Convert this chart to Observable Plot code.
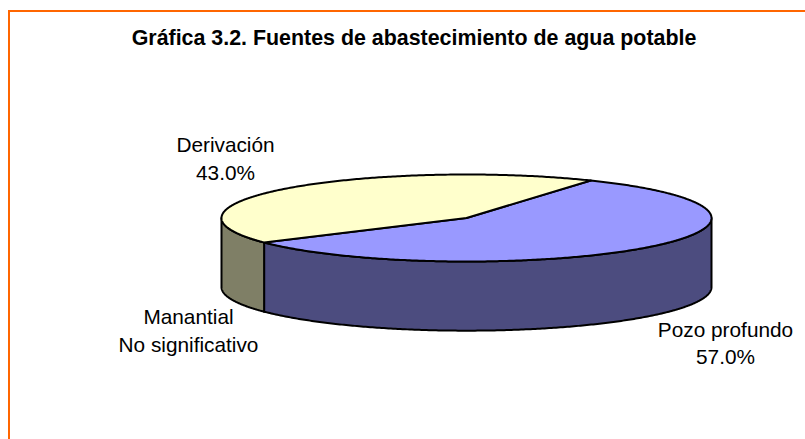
<!DOCTYPE html>
<html><head><meta charset="utf-8">
<script src="https://cdn.jsdelivr.net/npm/d3@7"></script>
<script src="https://cdn.jsdelivr.net/npm/@observablehq/plot@0.6"></script>
<style>
html,body{margin:0;padding:0;background:#fff}
#frame{position:absolute;left:0;top:0;width:805px;height:439px;overflow:hidden}
#frame:before{content:"";position:absolute;left:8px;top:10px;width:797px;height:429px;border-left:2.5px solid #ff6600;border-top:2.5px solid #ff6600;box-sizing:border-box}
svg{position:absolute;left:0;top:0;background:transparent!important}
</style></head><body><div id="frame"></div>
<script>
const chartTitle = "Gráfica 3.2. Fuentes de abastecimiento de agua potable";
const categories = ["Pozo profundo", "Derivación", "Manantial"];
const shares = [57.0, 43.0, 0];
const valueLabels = ["57.0%", "43.0%", "No significativo"];
const topColors = ["#9999ff", "#ffffcc", "#ffffff"];
const wallColors = ["#4c4c7f", "#7f7f66", "#ffffff"];
const startDegrees = 30.5;
const wallDepth = 1.59;
const W = 805, H = 439;
const px = d3.scaleLinear().domain([221, 711]).range([-1, 1]);
const py = d3.scaleLinear().domain([174, 261]).range([1, -1]);

const total = d3.sum(shares);
let acc = startDegrees * Math.PI / 180;
const slices = categories.map((name, i) => {
  const a0 = acc; acc += shares[i] / total * 2 * Math.PI;
  return {name, i, a0, a1: acc};
}).filter(d => d.a1 > d.a0);
const rim = (a, drop = 0) => ({x: Math.sin(a), y: Math.cos(a) - drop});
const arcPts = (a0, a1, drop = 0) => {
  const n = Math.max(2, Math.ceil((a1 - a0) / 0.01));
  return d3.range(n + 1).map(k => rim(a0 + (a1 - a0) * k / n, drop));
};
const tops = [], walls = [];
for (const s of slices) {
  tops.push({i: s.i, pts: [{x: 0, y: 0}, ...arcPts(s.a0, s.a1)]});
  for (const k of [0, 1]) {
    const lo = Math.max(s.a0, Math.PI / 2 + k * 2 * Math.PI);
    const hi = Math.min(s.a1, 3 * Math.PI / 2 + k * 2 * Math.PI);
    if (hi > lo) walls.push({i: s.i, pts: [...arcPts(lo, hi), ...arcPts(lo, hi, wallDepth).reverse()]});
  }
}
const marks = [];
const poly = (shape, fill) => Plot.line([...shape.pts, shape.pts[0]], {
  x: "x", y: "y", fill, stroke: "#000", strokeWidth: 2, curve: "linear", strokeLinejoin: "round"
});
for (const w of walls) marks.push(poly(w, wallColors[w.i]));
for (const t of tops) marks.push(poly(t, topColors[t.i]));

const textFont = {fontFamily: "'Liberation Sans', Arial, sans-serif", fill: "#000", stroke: "none"};
const label = (i, cx, yTop) => Plot.text([categories[i] + "\n" + valueLabels[i]], {
  x: px(cx), y: py(yTop), text: d => d, lineHeight: 1.32, fontSize: 20.8, textAnchor: "middle", lineAnchor: "top", ...textFont
});
marks.push(
  Plot.text([chartTitle], {x: px(413.5), y: py(38), text: d => d, fontSize: 21.4, fontWeight: "bold", textAnchor: "middle", ...textFont}),
  label(1, 225, 132.5),
  label(0, 725, 317),
  label(2, 188, 304.5)
);
const chart = Plot.plot({
  width: W, height: H, margin: 0,
  x: {domain: [px(0), px(W)], range: [0, W], axis: null},
  y: {domain: [py(0), py(H)], range: [0, H], axis: null},
  marks
});
document.getElementById("frame").appendChild(chart);
</script></body></html>
